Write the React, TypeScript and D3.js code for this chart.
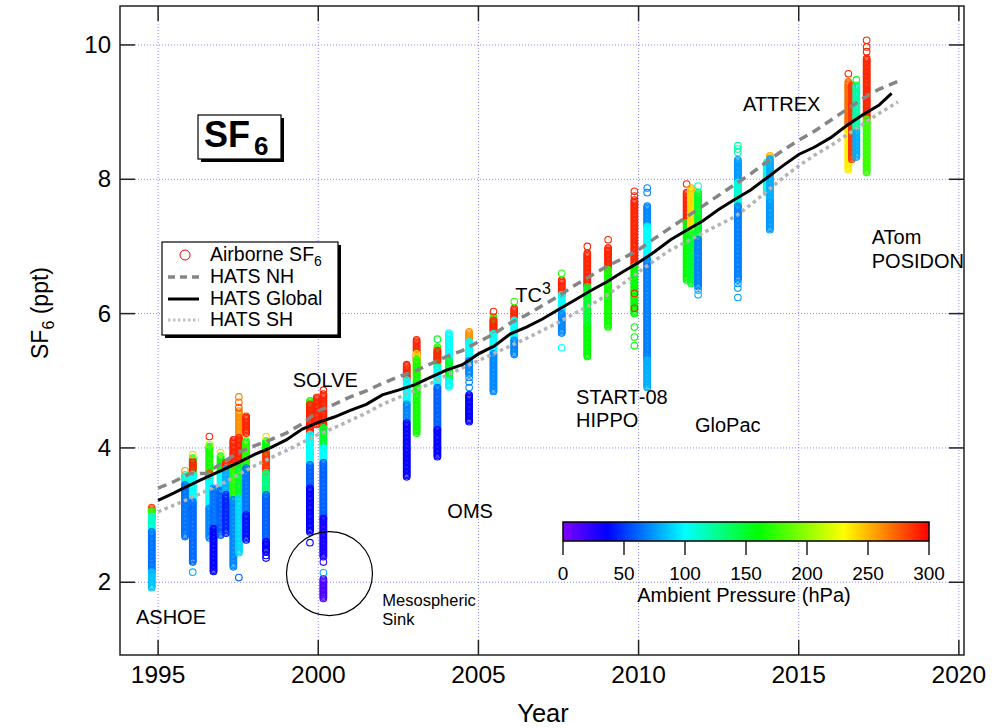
import React from 'react';
import * as d3 from 'd3';

// ---------- DATA ----------
const xTicks = [1995, 2000, 2005, 2010, 2015, 2020];
const yTicks = [2, 4, 6, 8, 10];
const pressureTicks = [0, 50, 100, 150, 200, 250, 300];
const colorStopsP = [0, 36, 100, 160, 230, 300];
const colorStopsC = ['#8000ff', '#0000ff', '#00ffff', '#00ff00', '#ffff00', '#ff0000'];

// HATS records: [year, ppt]
const hatsGlobal: [number, number][] = [
  [1995.0, 3.22], [1995.5, 3.33], [1996.0, 3.45], [1996.5, 3.56], [1997.0, 3.67], [1997.5, 3.78],
  [1998.0, 3.9], [1998.5, 4.0], [1999.0, 4.12], [1999.5, 4.28], [2000.0, 4.38], [2000.5, 4.46],
  [2001.0, 4.56], [2001.5, 4.65], [2002.0, 4.79], [2002.5, 4.86], [2003.0, 4.94], [2003.5, 5.05],
  [2004.0, 5.16], [2004.5, 5.24], [2005.0, 5.4], [2005.5, 5.52], [2006.0, 5.7], [2006.5, 5.8],
  [2007.0, 5.92], [2007.5, 6.06], [2008.0, 6.2], [2008.5, 6.34], [2009.0, 6.47], [2009.5, 6.62],
  [2010.0, 6.76], [2010.5, 6.92], [2011.0, 7.1], [2011.5, 7.24], [2012.0, 7.38], [2012.5, 7.55],
  [2013.0, 7.7], [2013.5, 7.84], [2014.0, 8.02], [2014.5, 8.2], [2015.0, 8.37], [2015.5, 8.48],
  [2016.0, 8.62], [2016.5, 8.8], [2017.0, 8.96], [2017.5, 9.1], [2017.9, 9.28],
];
const hatsNH: [number, number][] = [
  [1995.0, 3.4], [1995.5, 3.5], [1996.0, 3.62], [1996.5, 3.62], [1997.0, 3.78], [1997.5, 3.93],
  [1998.0, 4.03], [1998.5, 4.12], [1999.0, 4.22], [1999.5, 4.36], [2000.0, 4.55], [2000.5, 4.65],
  [2001.0, 4.76], [2001.5, 4.85], [2002.0, 4.96], [2002.5, 5.06], [2003.0, 5.14], [2003.5, 5.25],
  [2004.0, 5.36], [2004.5, 5.45], [2005.0, 5.58], [2005.5, 5.7], [2006.0, 5.86], [2006.5, 5.98],
  [2007.0, 6.12], [2007.5, 6.26], [2008.0, 6.42], [2008.5, 6.56], [2009.0, 6.7], [2009.5, 6.82],
  [2010.0, 6.95], [2010.5, 7.12], [2011.0, 7.28], [2011.5, 7.44], [2012.0, 7.6], [2012.5, 7.76],
  [2013.0, 7.92], [2013.5, 8.08], [2014.0, 8.26], [2014.5, 8.43], [2015.0, 8.58], [2015.5, 8.72],
  [2016.0, 8.88], [2016.5, 9.04], [2017.0, 9.2], [2017.5, 9.34], [2018.1, 9.46],
];
const hatsSH: [number, number][] = [
  [1995.0, 3.05], [1995.5, 3.15], [1996.0, 3.25], [1996.5, 3.36], [1997.0, 3.47], [1997.5, 3.6],
  [1998.0, 3.73], [1998.5, 3.85], [1999.0, 3.96], [1999.5, 4.08], [2000.0, 4.2], [2000.5, 4.3],
  [2001.0, 4.41], [2001.5, 4.52], [2002.0, 4.65], [2002.5, 4.75], [2003.0, 4.85], [2003.5, 4.96],
  [2004.0, 5.08], [2004.5, 5.19], [2005.0, 5.3], [2005.5, 5.41], [2006.0, 5.52], [2006.5, 5.63],
  [2007.0, 5.75], [2007.5, 5.87], [2008.0, 6.0], [2008.5, 6.13], [2009.0, 6.27], [2009.5, 6.44],
  [2010.0, 6.62], [2010.5, 6.79], [2011.0, 6.95], [2011.5, 7.07], [2012.0, 7.2], [2012.5, 7.32],
  [2013.0, 7.44], [2013.5, 7.62], [2014.0, 7.82], [2014.5, 8.02], [2015.0, 8.2], [2015.5, 8.36],
  [2016.0, 8.5], [2016.5, 8.66], [2017.0, 8.82], [2017.5, 8.98], [2018.1, 9.15],
];

// Airborne SF6 profiles: dense stacks of samples [year, top ppt, bottom ppt, pressure hPa]
const airborneStacks: [number, number, number, number][] = [
  // ASHOE
  [1994.8, 3.11, 3.05, 280], [1994.8, 3.06, 2.98, 170], [1994.8, 2.98, 2.75, 110], [1994.8, 2.75, 2.15, 65], [1994.8, 2.15, 1.92, 85],
  [1995.84, 3.6, 3.45, 110], [1995.84, 3.45, 2.68, 65],
  [1996.08, 3.85, 3.6, 160], [1996.08, 3.8, 3.68, 290], [1996.08, 3.6, 3.2, 100], [1996.08, 3.2, 2.3, 62],
  [1996.6, 4.02, 3.57, 165], [1996.6, 3.62, 3.5, 280], [1996.6, 3.57, 3.1, 100], [1996.6, 3.1, 2.66, 70],
  [1996.73, 3.4, 2.8, 65], [1996.73, 2.8, 2.16, 35],
  [1996.95, 3.88, 3.6, 160], [1996.95, 3.6, 3.37, 100], [1996.95, 3.37, 2.7, 60],
  [1997.12, 3.78, 3.68, 290], [1997.12, 3.68, 3.3, 80], [1997.12, 3.3, 2.73, 45],
  [1997.35, 4.12, 3.72, 290], [1997.35, 3.72, 3.23, 170], [1997.35, 3.23, 2.23, 70],
  [1997.52, 4.55, 4.15, 260], [1997.52, 4.15, 3.75, 290], [1997.52, 3.75, 3.25, 150], [1997.52, 3.25, 2.44, 90],
  [1997.75, 4.47, 4.22, 290], [1997.75, 4.1, 3.7, 170], [1997.75, 3.7, 3.0, 65], [1997.75, 3.0, 2.63, 40],
  [1998.37, 4.1, 3.9, 160], [1998.37, 3.92, 3.63, 285], [1998.37, 3.63, 3.3, 130], [1998.37, 3.3, 2.6, 60], [1998.37, 2.6, 2.45, 35],
  // SOLVE
  [1999.74, 4.7, 4.45, 170], [1999.74, 4.65, 4.2, 290], [1999.74, 4.2, 3.75, 100], [1999.74, 3.75, 3.4, 60], [1999.74, 3.4, 2.75, 35],
  [1999.95, 4.75, 4.35, 290],
  [2000.16, 4.8, 4.3, 290], [2000.16, 4.3, 4.0, 150], [2000.16, 4.0, 3.78, 100], [2000.16, 3.78, 2.95, 60], [2000.16, 2.95, 2.38, 30],
  [2000.16, 2.05, 1.76, 15],
  // 2003-2006
  [2002.76, 5.24, 5.01, 290], [2002.76, 5.01, 4.65, 100], [2002.76, 4.65, 4.37, 70], [2002.76, 4.37, 3.57, 35],
  [2003.07, 5.61, 5.31, 290], [2003.07, 5.4, 5.1, 240], [2003.07, 5.31, 4.22, 165],
  [2003.72, 5.5, 5.2, 170], [2003.72, 5.45, 5.3, 290], [2003.72, 5.2, 4.9, 100], [2003.72, 4.9, 4.27, 60], [2003.72, 4.27, 3.87, 35],
  [2004.08, 5.71, 5.2, 100], [2004.08, 5.3, 5.0, 150], [2004.08, 5.0, 4.91, 100],
  [2004.71, 5.73, 5.58, 260], [2004.71, 5.58, 5.3, 100], [2004.71, 5.3, 5.1, 70], [2004.71, 4.79, 4.39, 35],
  [2005.47, 5.95, 5.7, 170], [2005.47, 5.9, 5.75, 290], [2005.47, 5.7, 5.4, 100], [2005.47, 5.4, 4.84, 70],
  [2006.12, 6.08, 5.9, 290], [2006.12, 5.9, 5.6, 100], [2006.12, 5.6, 5.39, 70],
  // START-08 / HIPPO
  [2007.6, 6.5, 6.28, 290], [2007.6, 6.28, 6.0, 100], [2007.6, 6.0, 5.71, 70],
  [2008.4, 6.9, 6.4, 290], [2008.4, 6.4, 5.8, 150], [2008.4, 5.8, 5.36, 160],
  [2009.05, 6.98, 6.65, 290], [2009.05, 6.65, 5.8, 165],
  [2009.87, 7.69, 6.7, 290], [2009.87, 6.7, 6.0, 160],
  [2010.27, 7.6, 7.3, 70], [2010.27, 7.3, 6.8, 100], [2010.27, 6.8, 5.31, 68], [2010.27, 5.31, 4.9, 80],
  // GloPac / 2011-2014
  [2011.5, 7.8, 7.35, 290], [2011.5, 7.35, 6.5, 160],
  [2011.64, 7.85, 7.2, 240], [2011.64, 7.2, 6.45, 150],
  [2011.86, 7.8, 7.1, 150], [2011.86, 7.1, 6.4, 68],
  [2013.1, 8.29, 7.95, 75], [2013.1, 7.95, 7.6, 110], [2013.1, 7.6, 6.5, 68],
  [2014.0, 8.25, 7.8, 110],
  [2014.1, 8.35, 8.25, 250], [2014.1, 8.3, 7.65, 80], [2014.1, 7.65, 7.25, 75],
  // ATTREX / ATom / POSIDON
  [2016.55, 9.45, 8.74, 270], [2016.55, 8.74, 8.14, 235],
  [2016.66, 9.4, 8.3, 285],
  [2016.8, 9.4, 8.7, 120], [2016.8, 8.7, 8.33, 80],
  [2017.12, 9.8, 8.89, 290], [2017.12, 8.89, 8.1, 175],
];

// Individual samples: [year, ppt, pressure hPa]
const airborneSingles: [number, number, number][] = [
  [1995.84, 3.66, 260], [1996.08, 3.9, 240], [1996.08, 2.15, 80], [1996.6, 4.17, 290], [1996.6, 4.05, 200],
  [1996.95, 3.93, 240], [1997.52, 4.76, 265], [1997.52, 4.68, 270], [1997.52, 4.6, 280], [1997.52, 2.07, 60],
  [1998.37, 4.17, 240], [1998.37, 2.4, 35], [1998.37, 2.36, 35],
  [1999.74, 2.59, 35], [2000.16, 4.86, 290], [2000.16, 2.3, 25], [2000.16, 2.14, 80],
  [2003.72, 5.62, 150], [2004.71, 5.05, 70], [2004.71, 4.98, 70], [2004.71, 4.9, 70],
  [2005.47, 6.03, 290], [2006.12, 6.18, 170],
  [2007.6, 6.6, 170], [2007.6, 5.49, 100], [2008.4, 7.0, 290], [2009.05, 7.1, 290],
  [2009.87, 7.82, 290], [2009.87, 7.75, 290], [2009.87, 6.3, 290], [2009.87, 6.08, 290],
  [2009.87, 5.8, 160], [2009.87, 5.65, 160], [2009.87, 5.52, 160],
  [2010.27, 7.87, 70], [2010.27, 7.8, 70],
  [2011.5, 7.93, 290], [2011.64, 7.87, 250], [2011.86, 7.9, 110], [2011.86, 6.35, 80], [2011.86, 6.28, 80],
  [2013.1, 8.5, 120], [2013.1, 8.45, 120], [2013.1, 8.4, 120], [2013.1, 6.45, 75], [2013.1, 6.38, 75], [2013.1, 6.24, 75],
  [2016.55, 9.57, 290], [2016.8, 9.48, 160],
  [2017.12, 10.07, 290], [2017.12, 9.97, 290], [2017.12, 9.9, 290],
];

// Campaign labels: [text, year, ppt]
const campaignLabels: [string, number, number][] = [
  ['ASHOE', 1994.31, 1.38], ['SOLVE', 1999.2, 4.9], ['OMS', 2004.03, 2.95],
  ['GloPac', 2011.76, 4.24], ['ATTREX', 2013.26, 9.02],
  ['START-08', 2008.05, 4.66], ['HIPPO', 2008.05, 4.31],
  ['ATom', 2017.28, 7.03], ['POSIDON', 2017.28, 6.68],
];

const fontFamily = "'Liberation Sans', Arial, Helvetica, sans-serif";

export default function App() {
  const x = d3.scaleLinear().domain([1993.81, 2020.16]).range([120, 964]);
  const y = d3.scaleLinear().domain([0.917, 10.58]).range([655, 6]);
  const pColor = d3.scaleLinear<string>().domain(colorStopsP).range(colorStopsC).interpolate(d3.interpolateRgb).clamp(true);
  const cbar = d3.scaleLinear().domain([0, 300]).range([563, 929]);

  const line = d3.line<[number, number]>().x(d => x(d[0])).y(d => y(d[1]));

  const rings: { cx: number; cy: number; c: string }[] = [];
  airborneStacks.forEach(([yr, top, bot, p]) => {
    const y0 = y(top), y1 = y(bot);
    const n = Math.max(1, Math.round((y1 - y0) / 1.3));
    for (let i = 0; i <= n; i++) rings.push({ cx: x(yr), cy: y0 + (i * (y1 - y0)) / n, c: pColor(p) });
  });
  airborneSingles.forEach(([yr, v, p]) => rings.push({ cx: x(yr), cy: y(v), c: pColor(p) }));

  const L = 120, R = 964, T = 6, B = 655;
  const grid = '#8a8aff';

  return (
    <svg width={1005} height={728} style={{ position: 'absolute', left: 0, top: 0, background: '#fff' }} fontFamily={fontFamily}>
      <defs>
        <linearGradient id="pgrad" x1="0" x2="1" y1="0" y2="0">
          {colorStopsP.map((p, i) => (
            <stop key={i} offset={p / 300} stopColor={colorStopsC[i]} />
          ))}
        </linearGradient>
        <clipPath id="plotclip"><rect x={L} y={T} width={R - L} height={B - T} /></clipPath>
      </defs>

      {/* gridlines */}
      {xTicks.map(t => (
        <line key={'gx' + t} x1={x(t)} x2={x(t)} y1={T} y2={B} stroke={grid} strokeWidth={1} strokeDasharray="1,2" />
      ))}
      {yTicks.map(t => (
        <line key={'gy' + t} x1={L} x2={R} y1={y(t)} y2={y(t)} stroke={grid} strokeWidth={1} strokeDasharray="1,2" />
      ))}

      {/* airborne data */}
      <g clipPath="url(#plotclip)">
        {rings.map((r, i) => (
          <circle key={i} cx={r.cx} cy={r.cy} r={3.3} fill="none" stroke={r.c} strokeWidth={1.1} />
        ))}
        <path d={line(hatsSH) || ''} fill="none" stroke="#b4b4b4" strokeWidth={3.5} strokeDasharray="3.5,3.5" />
        <path d={line(hatsNH) || ''} fill="none" stroke="#858585" strokeWidth={3.5} strokeDasharray="9,6" />
        <path d={line(hatsGlobal) || ''} fill="none" stroke="#000" strokeWidth={3} />
      </g>

      {/* frame and ticks */}
      <rect x={L} y={T} width={R - L} height={B - T} fill="none" stroke="#222" strokeWidth={1.5} />
      {xTicks.map(t => (
        <g key={'tx' + t}>
          <line x1={x(t)} x2={x(t)} y1={B} y2={B - 15} stroke="#222" strokeWidth={1.5} />
          <line x1={x(t)} x2={x(t)} y1={T} y2={T + 15} stroke="#222" strokeWidth={1.5} />
          <text x={x(t)} y={683} textAnchor="middle" fontSize={24.5}>{t}</text>
        </g>
      ))}
      {yTicks.map(t => (
        <g key={'ty' + t}>
          <line x1={L} x2={L + 15} y1={y(t)} y2={y(t)} stroke="#222" strokeWidth={1.5} />
          <line x1={R} x2={R - 15} y1={y(t)} y2={y(t)} stroke="#222" strokeWidth={1.5} />
          <text x={111} y={y(t) + 8} textAnchor="end" fontSize={24}>{t}</text>
        </g>
      ))}
      <text x={543} y={722} textAnchor="middle" fontSize={25.5}>Year</text>
      <text transform="translate(48,313) rotate(-90)" textAnchor="middle" fontSize={23}>
        SF<tspan dy={6} fontSize={16}>6</tspan><tspan dy={-6}> (ppt)</tspan>
      </text>

      {/* campaign labels */}
      {campaignLabels.map(([s, yr, v]) => (
        <text key={s} x={x(yr)} y={y(v)} fontSize={20}>{s}</text>
      ))}
      <text x={x(2006.15)} y={y(6.17)} fontSize={20}>
        TC<tspan dy={-8} fontSize={16}>3</tspan>
      </text>
      <text x={x(2002.0)} y={y(1.64)} fontSize={16.5}>Mesospheric</text>
      <text x={x(2002.0)} y={y(1.37)} fontSize={16.5}>Sink</text>
      <ellipse cx={x(2000.35)} cy={y(2.13)} rx={43} ry={42} fill="none" stroke="#000" strokeWidth={1.2} />

      {/* SF6 box */}
      <rect x={201} y={118} width={83} height={44} fill="#000" />
      <rect x={198} y={115} width={83} height={44} fill="#fff" stroke="#000" strokeWidth={1.2} />
      <text x={204} y={147} fontSize={36} fontWeight="bold">
        SF<tspan dx={4} dy={8} fontSize={26}>6</tspan>
      </text>

      {/* legend */}
      <rect x={165} y={245} width={176} height={93} fill="#000" />
      <rect x={162} y={242} width={176} height={93} fill="#fff" stroke="#000" strokeWidth={1.2} />
      <circle cx={185} cy={255} r={5} fill="none" stroke="#ff0000" strokeWidth={1} />
      <text x={210} y={261} fontSize={19.5}>Airborne SF<tspan dy={5} fontSize={14}>6</tspan></text>
      <line x1={168} x2={199} y1={277} y2={277} stroke="#858585" strokeWidth={3.5} strokeDasharray="7,5" />
      <text x={210} y={283} fontSize={19.5}>HATS NH</text>
      <line x1={168} x2={199} y1={299} y2={299} stroke="#000" strokeWidth={3} />
      <text x={210} y={305} fontSize={19.5}>HATS Global</text>
      <line x1={168} x2={199} y1={320} y2={320} stroke="#c0c0c0" strokeWidth={3} strokeDasharray="2.5,2.5" />
      <text x={210} y={326} fontSize={19.5}>HATS SH</text>

      {/* color bar */}
      <rect x={cbar(0)} y={522} width={cbar(300) - cbar(0)} height={19} fill="url(#pgrad)" stroke="#000" strokeWidth={1.5} />
      {pressureTicks.map(p => (
        <g key={'cb' + p}>
          <line x1={cbar(p)} x2={cbar(p)} y1={541} y2={555} stroke="#222" strokeWidth={1.5} />
          <text x={cbar(p)} y={580} textAnchor="middle" fontSize={19}>{p}</text>
        </g>
      ))}
      <text x={744} y={602} textAnchor="middle" fontSize={20}>Ambient Pressure (hPa)</text>
    </svg>
  );
}
